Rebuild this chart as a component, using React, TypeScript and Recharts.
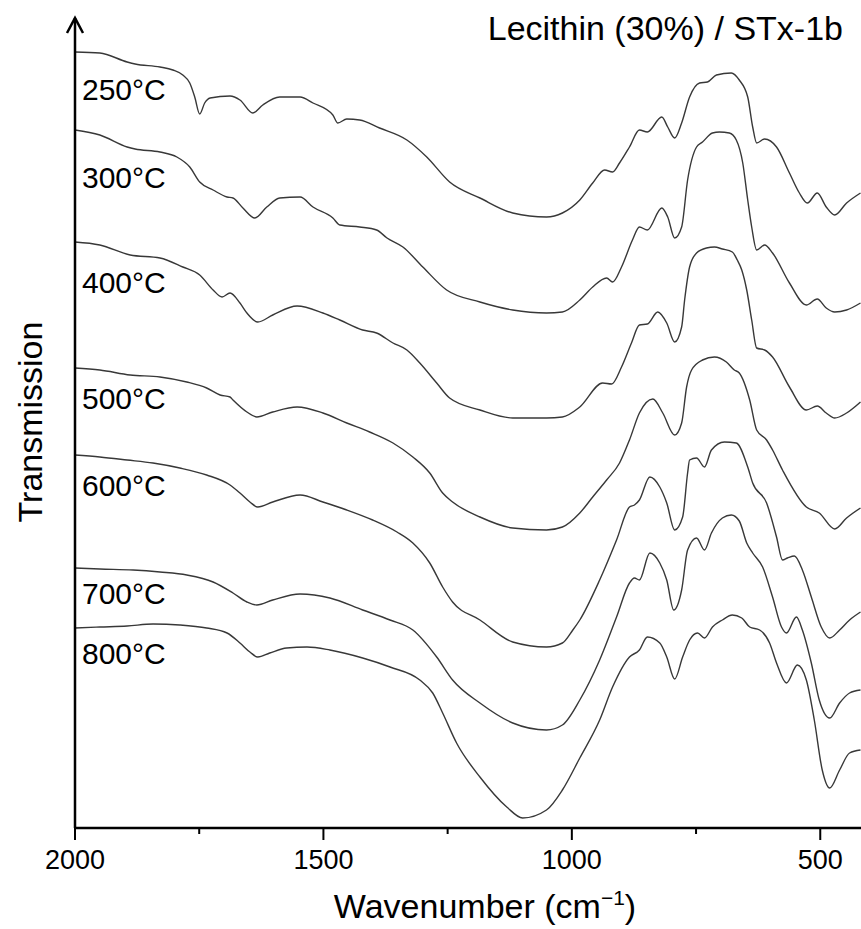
import React from 'react';
import { LineChart, Line, XAxis, YAxis } from 'recharts';

// FTIR spectra, wavenumber (cm-1) vs transmission (arbitrary, offset per trace)
const S250: [number, number][] = [
  [2000, 776], [1950, 775], [1895, 766], [1879, 764], [1829, 761], [1803, 758], [1783, 753], [1769, 745],
  [1759, 731], [1749, 714], [1739, 725], [1728, 730], [1688, 732], [1668, 728], [1642, 715], [1622, 723],
  [1588, 731], [1547, 731], [1521, 725], [1481, 713], [1471, 705], [1453, 709], [1427, 708], [1387, 700],
  [1332, 688], [1292, 671], [1246, 646], [1185, 630], [1119, 615], [1051, 611], [1019, 615], [984, 628],
  [958, 645], [934, 658], [918, 656], [904, 665], [884, 681], [864, 698], [848, 696], [819, 711],
  [807, 701], [793, 690], [779, 705], [763, 731], [743, 745], [727, 746], [709, 753], [679, 755],
  [663, 748], [646, 731], [636, 701], [628, 685], [612, 689], [588, 681], [562, 655], [542, 635],
  [526, 625], [506, 635], [488, 621], [471, 613], [447, 625], [419, 635],
];
const S300: [number, number][] = [
  [2000, 698], [1950, 693], [1895, 681], [1879, 679], [1829, 676], [1795, 671], [1769, 661], [1749, 646],
  [1722, 638], [1694, 631], [1682, 630], [1662, 620], [1638, 610], [1614, 621], [1588, 630], [1547, 631],
  [1521, 621], [1481, 610], [1467, 603], [1427, 601], [1393, 598], [1372, 590], [1340, 581], [1300, 561],
  [1252, 538], [1185, 526], [1119, 518], [1051, 515], [1019, 516], [984, 528], [958, 541], [930, 550],
  [918, 546], [900, 561], [878, 588], [864, 601], [848, 598], [819, 620], [807, 611], [793, 590],
  [779, 601], [767, 648], [749, 681], [737, 686], [717, 695], [703, 696], [683, 695], [669, 688],
  [656, 665], [646, 628], [638, 601], [628, 578], [612, 583], [596, 575], [562, 545], [528, 523],
  [506, 529], [488, 520], [471, 516], [447, 518], [419, 525],
];
const S400: [number, number][] = [
  [2000, 586], [1950, 583], [1889, 573], [1829, 570], [1783, 561], [1749, 553], [1722, 538], [1704, 531],
  [1688, 535], [1668, 525], [1654, 515], [1632, 506], [1602, 513], [1553, 522], [1501, 515], [1467, 508],
  [1421, 498], [1393, 495], [1360, 485], [1332, 478], [1306, 465], [1272, 445], [1246, 430], [1185, 418],
  [1119, 410], [1051, 410], [1019, 411], [984, 421], [938, 445], [920, 444], [900, 461], [880, 485],
  [864, 503], [848, 504], [827, 516], [809, 505], [793, 486], [779, 501], [773, 528], [763, 561],
  [749, 575], [729, 580], [713, 581], [697, 579], [677, 576], [667, 568], [658, 558], [648, 538],
  [638, 508], [628, 480], [612, 478], [596, 471], [562, 441], [528, 418], [506, 422], [488, 415],
  [471, 410], [447, 415], [419, 426],
];
const S500: [number, number][] = [
  [2000, 460], [1950, 458], [1889, 453], [1829, 451], [1775, 446], [1735, 440], [1708, 433], [1688, 431],
  [1682, 428], [1654, 416], [1634, 411], [1602, 416], [1553, 421], [1501, 415], [1453, 405], [1407, 396],
  [1360, 385], [1320, 371], [1286, 355], [1260, 335], [1240, 326], [1185, 311], [1119, 300], [1051, 298],
  [1019, 301], [984, 315], [958, 331], [930, 348], [904, 365], [884, 388], [864, 415], [837, 429],
  [817, 415], [793, 393], [779, 405], [769, 441], [759, 458], [737, 468], [713, 471], [689, 466],
  [673, 458], [663, 455], [642, 428], [628, 398], [608, 388], [596, 378], [576, 358], [528, 321],
  [502, 315], [471, 299], [447, 310], [419, 320],
];
const S600: [number, number][] = [
  [2000, 373], [1950, 371], [1895, 368], [1843, 365], [1789, 360], [1735, 353], [1688, 343], [1668, 335],
  [1648, 326], [1632, 321], [1602, 326], [1547, 333], [1501, 326], [1453, 318], [1401, 308], [1352, 296],
  [1320, 285], [1286, 265], [1260, 241], [1240, 226], [1185, 208], [1119, 186], [1051, 181], [1019, 185],
  [998, 198], [984, 208], [944, 248], [910, 288], [884, 321], [874, 323], [864, 328], [843, 351],
  [823, 341], [809, 325], [793, 298], [777, 311], [767, 355], [763, 368], [749, 370], [733, 361],
  [719, 378], [693, 386], [669, 385], [646, 361], [636, 345], [608, 325], [588, 291], [576, 268],
  [566, 270], [552, 272], [536, 258], [518, 231], [498, 201], [481, 190], [461, 198], [441, 208],
  [419, 216],
];
const S700: [number, number][] = [
  [2000, 260], [1950, 259], [1883, 258], [1829, 256], [1775, 253], [1722, 246], [1682, 235], [1654, 226],
  [1634, 223], [1602, 228], [1547, 234], [1487, 230], [1421, 218], [1366, 208], [1320, 198], [1272, 171],
  [1240, 148], [1185, 125], [1119, 105], [1051, 98], [1019, 103], [984, 128], [944, 168], [910, 211],
  [884, 245], [874, 250], [864, 248], [843, 275], [823, 265], [809, 248], [795, 218], [779, 238],
  [767, 278], [749, 290], [733, 278], [719, 295], [697, 310], [679, 313], [663, 307], [648, 285],
  [636, 275], [616, 261], [596, 231], [578, 201], [568, 195], [548, 211], [536, 198], [518, 165],
  [502, 128], [481, 110], [461, 125], [441, 135], [419, 138],
];
const S800: [number, number][] = [
  [2000, 200], [1950, 201], [1895, 202], [1843, 204], [1789, 203], [1735, 200], [1694, 195], [1668, 185],
  [1648, 176], [1632, 171], [1608, 175], [1574, 180], [1533, 181], [1487, 178], [1421, 170], [1366, 161],
  [1306, 148], [1280, 135], [1260, 115], [1232, 85], [1185, 51], [1131, 21], [1099, 10], [1051, 18],
  [1019, 38], [984, 70], [944, 108], [918, 141], [884, 171], [864, 178], [848, 191], [823, 185],
  [809, 171], [793, 149], [777, 171], [763, 188], [747, 195], [733, 190], [717, 201], [697, 208],
  [677, 213], [658, 210], [642, 201], [622, 198], [602, 185], [588, 165], [568, 145], [546, 163],
  [528, 148], [512, 108], [496, 58], [481, 40], [461, 58], [441, 75], [419, 78],
];

const SERIES = [S250, S300, S400, S500, S600, S700, S800];
const LABELS = ['250°C', '300°C', '400°C', '500°C', '600°C', '700°C', '800°C'];
const LABEL_Y = [100, 188, 293, 409, 496, 604, 664];
const TICKS = [2000, 1750, 1500, 1250, 1000, 750, 500];
const MAJOR = [2000, 1500, 1000, 500];

const FONT = '"Liberation Sans", Arial, sans-serif';

const toRows = (s: [number, number][]) => s.map(([w, t]) => ({ w, t }));

function XTick(props: any) {
  const { x, y, payload } = props;
  const major = MAJOR.includes(payload.value);
  return (
    <g>
      <line x1={x} y1={y} x2={x} y2={y + (major ? 12 : 6)} stroke="#000" strokeWidth={2} />
      {major && (
        <text x={x} y={y + 41} textAnchor="middle" fontSize={27} fontFamily={FONT} fill="#000">
          {payload.value}
        </text>
      )}
    </g>
  );
}

export default function App() {
  return (
    <div style={{ position: 'absolute', left: 0, top: 0, width: 861, height: 929, background: '#fff' }}>
      <LineChart width={861} height={929} margin={{ top: 18, right: 0, bottom: 0, left: 15 }}>
        <XAxis
          type="number"
          dataKey="w"
          domain={[418, 2000]}
          reversed
          allowDataOverflow
          ticks={TICKS}
          interval={0}
          tickSize={0}
          tickMargin={0}
          tickLine={false}
          tick={<XTick />}
          axisLine={{ stroke: '#000', strokeWidth: 2.5 }}
          height={101}
        />
        <YAxis
          type="number"
          domain={[0, 810]}
          allowDataOverflow
          tick={false}
          tickLine={false}
          axisLine={{ stroke: '#000', strokeWidth: 2.5 }}
          width={60}
        />
        {SERIES.map((s, i) => (
          <Line
            key={LABELS[i]}
            name={LABELS[i]}
            data={toRows(s)}
            dataKey="t"
            type="monotone"
            stroke="#383838"
            strokeWidth={1.4}
            dot={false}
            activeDot={false}
            isAnimationActive={false}
          />
        ))}
        <path d="M67,33 L75,18 L83,33" fill="none" stroke="#000" strokeWidth={2.5} />
        <text x={843} y={40} textAnchor="end" fontSize={34} fontFamily={FONT} fill="#000">
          Lecithin (30%) / STx-1b
        </text>
        {LABELS.map((l, i) => (
          <text key={l} x={82} y={LABEL_Y[i]} fontSize={30} fontFamily={FONT} fill="#000">
            {l}
          </text>
        ))}
        <text x={485} y={918} textAnchor="middle" fontSize={34} fontFamily={FONT} fill="#000">
          Wavenumber (cm
          <tspan dy={-13} fontSize={21}>−1</tspan>
          <tspan dy={13}>)</tspan>
        </text>
        <text
          x={42}
          y={422}
          transform="rotate(-90 42 422)"
          textAnchor="middle"
          fontSize={34}
          fontFamily={FONT}
          fill="#000"
        >
          Transmission
        </text>
      </LineChart>
    </div>
  );
}
